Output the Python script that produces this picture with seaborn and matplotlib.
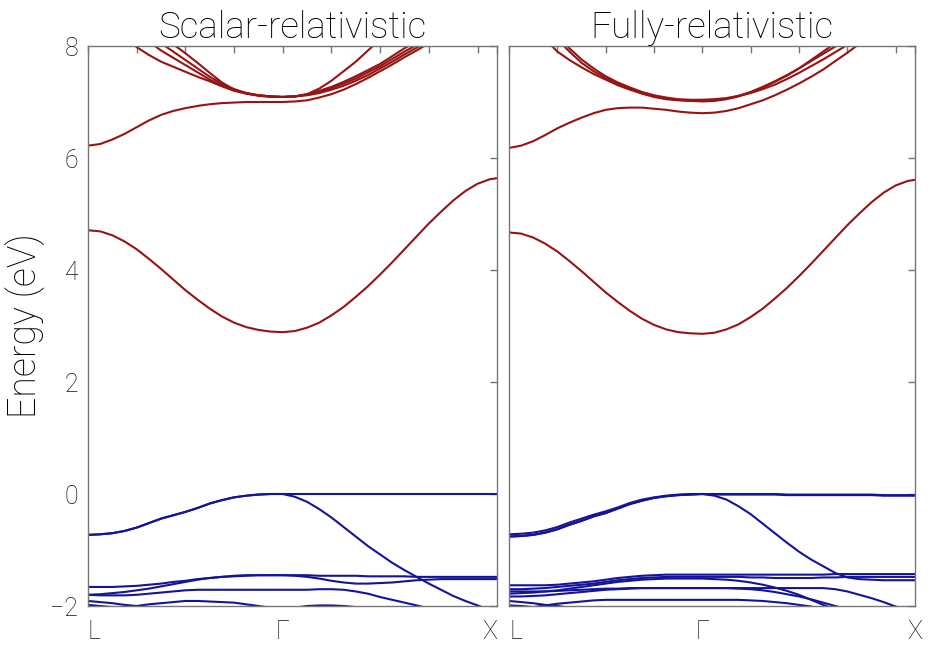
import numpy as np
import pandas as pd
import matplotlib
matplotlib.use('Agg')
import matplotlib.pyplot as plt
import seaborn as sns

nan = np.nan

# k path: L -> Gamma -> X, sampled every 0.25 (ticks every 1)
k_LG = [0, 0.25, 0.5, 0.75, 1, 1.25, 1.5, 1.75, 2, 2.25, 2.5, 2.75, 3, 3.25, 3.5, 3.75, 4]
k_GX = [4.25, 4.5, 4.75, 5, 5.25, 5.5, 5.75, 6, 6.25, 6.5, 6.75, 7, 7.25, 7.5, 7.75, 8, 8.25, 8.4]
kpts = k_LG + k_GX
klabels = ['L', 'Γ', 'X']
kticks = [0, 4, 8.4]

# ---- scalar-relativistic bands (eV): L-Gamma part + Gamma-X part ----
sr_c1 = ([4.71, 4.69, 4.62, 4.51, 4.37, 4.2, 4.02, 3.83, 3.64, 3.47, 3.31, 3.17, 3.06, 2.98, 2.93, 2.9, 2.89] +
         [2.91, 2.97, 3.06, 3.19, 3.34, 3.52, 3.71, 3.92, 4.14, 4.37, 4.6, 4.83, 5.04, 5.24, 5.41, 5.54, 5.62, 5.64])
sr_c2 = ([6.22, 6.25, 6.33, 6.43, 6.55, 6.67, 6.77, 6.84, 6.89, 6.93, 6.96, 6.98, 6.99, 7.0, 7.0, 7.0, 7.0] +
         [7.01, 7.03, 7.08, 7.14, 7.22, 7.32, 7.43, 7.55, 7.67, 7.8, 7.92, 8.05, 8.17, 8.3, nan, nan, nan, nan])
sr_c3 = ([nan, nan, 8.45, 8.2, 7.98, 7.84, 7.72, 7.63, 7.54, 7.45, 7.37, 7.28, 7.2, 7.15, 7.12, 7.1, 7.09] +
         [7.1, 7.12, 7.16, 7.22, 7.29, 7.38, 7.48, 7.6, 7.72, 7.85, 7.97, 8.1, nan, nan, nan, nan, nan, nan])
sr_c4 = ([nan, nan, nan, nan, 8.25, 8.08, 7.92, 7.79, 7.66, 7.53, 7.4, 7.3, 7.22, 7.16, 7.12, 7.1, 7.09] +
         [7.1, 7.13, 7.18, 7.25, 7.33, 7.42, 7.53, 7.64, 7.77, 7.9, 8.02, 8.15, nan, nan, nan, nan, nan, nan])
sr_c5 = ([nan, nan, nan, nan, 8.4, 8.2, 8.05, 7.9, 7.75, 7.6, 7.45, 7.33, 7.23, 7.16, 7.12, 7.1, 7.09] +
         [7.1, 7.14, 7.2, 7.27, 7.36, 7.46, 7.57, 7.68, 7.82, 7.96, 8.08, 8.2, nan, nan, nan, nan, nan, nan])
sr_c6 = ([nan, nan, nan, nan, nan, nan, 8.2, 8.03, 7.87, 7.7, 7.52, 7.35, 7.22, 7.15, 7.11, 7.09, 7.09] +
         [7.1, 7.14, 7.24, 7.38, 7.55, 7.72, 7.92, 8.12, nan, nan, nan, nan, nan, nan, nan, nan, nan, nan])
sr_v1 = ([-0.73, -0.72, -0.7, -0.66, -0.6, -0.52, -0.44, -0.38, -0.32, -0.25, -0.17, -0.11, -0.06, -0.03, -0.01, 0.0, 0.0] +
         [0.0, 0.0, 0.0, 0.0, 0.0, 0.0, 0.0, 0.0, 0.0, 0.0, 0.0, 0.0, 0.0, 0.0, 0.0, 0.0, 0.0, 0.0])
sr_v2 = ([-0.73, -0.72, -0.7, -0.66, -0.6, -0.52, -0.44, -0.38, -0.32, -0.25, -0.17, -0.11, -0.06, -0.03, -0.01, 0.0, 0.0] +
         [-0.05, -0.14, -0.27, -0.42, -0.59, -0.76, -0.93, -1.08, -1.23, -1.36, -1.48, -1.6, -1.71, -1.82, -1.91, -1.99, -2.07, -2.12])
sr_v3 = ([-1.66, -1.66, -1.66, -1.65, -1.64, -1.62, -1.6, -1.57, -1.55, -1.52, -1.5, -1.48, -1.46, -1.45, -1.45, -1.45, -1.45] +
         [-1.45, -1.45, -1.46, -1.46, -1.46, -1.46, -1.47, -1.47, -1.47, -1.47, -1.48, -1.48, -1.48, -1.48, -1.48, -1.48, -1.48, -1.48])
sr_v4 = ([-1.8, -1.79, -1.77, -1.75, -1.72, -1.69, -1.65, -1.61, -1.57, -1.53, -1.5, -1.48, -1.47, -1.46, -1.45, -1.45, -1.45] +
         [-1.46, -1.48, -1.51, -1.55, -1.58, -1.6, -1.6, -1.59, -1.58, -1.56, -1.54, -1.53, -1.52, -1.52, -1.52, -1.52, -1.52, -1.52])
sr_v5 = ([-1.8, -1.81, -1.81, -1.81, -1.8, -1.78, -1.76, -1.74, -1.72, -1.71, -1.71, -1.71, -1.71, -1.71, -1.71, -1.71, -1.71] +
         [-1.71, -1.71, -1.7, -1.7, -1.71, -1.74, -1.78, -1.84, -1.89, -1.94, -1.99, -2.04, nan, nan, nan, nan, nan, nan])
sr_v6 = ([-1.91, -1.93, -1.95, -1.98, -2.0, -2.03, nan, nan, nan, nan, nan, nan, nan, nan, nan, nan, nan] +
         [nan] * 18)
sr_v7 = ([nan, nan, nan, nan, -2.0, -1.97, -1.95, -1.93, -1.91, -1.91, -1.92, -1.93, -1.94, -1.97, -2.0, -2.03, nan] +
         [nan] * 18)
sr_v8 = ([nan] * 17 +
         [-2.03, -2.0, -1.99, -1.99, -2.0, -2.02, -2.04, nan, nan, nan, nan, nan, nan, nan, nan, nan, nan, nan])
sr_v9 = ([-1.98, -2.0, -2.02, nan, nan, nan, nan, nan, nan, nan, nan, nan, nan, nan, nan, nan, nan] +
         [nan] * 18)

# ---- fully-relativistic bands (eV) ----
fr_c1 = ([4.67, 4.65, 4.58, 4.47, 4.33, 4.16, 3.98, 3.79, 3.6, 3.43, 3.27, 3.13, 3.02, 2.94, 2.89, 2.87, 2.86] +
         [2.88, 2.94, 3.03, 3.16, 3.31, 3.49, 3.68, 3.89, 4.11, 4.34, 4.57, 4.8, 5.01, 5.21, 5.38, 5.51, 5.59, 5.61])
fr_c2 = ([6.18, 6.22, 6.3, 6.41, 6.53, 6.63, 6.72, 6.8, 6.86, 6.89, 6.9, 6.9, 6.88, 6.86, 6.83, 6.81, 6.8] +
         [6.81, 6.84, 6.89, 6.96, 7.03, 7.12, 7.22, 7.33, 7.45, 7.58, 7.73, 7.88, 8.04, 8.2, nan, nan, nan, nan])
fr_c3 = ([nan, nan, 8.4, 8.12, 7.9, 7.75, 7.62, 7.5, 7.4, 7.3, 7.22, 7.15, 7.09, 7.05, 7.03, 7.02, 7.01] +
         [7.02, 7.05, 7.1, 7.17, 7.26, 7.36, 7.47, 7.6, 7.75, 7.9, 8.05, 8.2, nan, nan, nan, nan, nan, nan])
fr_c4 = ([nan, nan, nan, nan, 8.12, 7.9, 7.7, 7.55, 7.43, 7.33, 7.24, 7.16, 7.1, 7.06, 7.04, 7.02, 7.02] +
         [7.03, 7.06, 7.11, 7.18, 7.27, 7.37, 7.48, 7.6, 7.73, 7.86, 7.99, 8.12, nan, nan, nan, nan, nan, nan])
fr_c5 = ([nan, nan, nan, nan, 8.22, 7.96, 7.76, 7.6, 7.46, 7.35, 7.26, 7.18, 7.12, 7.08, 7.05, 7.04, 7.04] +
         [7.05, 7.07, 7.11, 7.16, 7.23, 7.31, 7.41, 7.52, 7.64, 7.76, 7.89, 8.02, nan, nan, nan, nan, nan, nan])
fr_v1 = ([-0.72, -0.71, -0.69, -0.65, -0.59, -0.51, -0.44, -0.37, -0.31, -0.24, -0.16, -0.1, -0.06, -0.03, -0.01, 0.0, 0.0] +
         [0.0, 0.0, 0.0, 0.0, 0.0, 0.0, -0.01, -0.01, -0.01, -0.01, -0.01, -0.01, -0.01, -0.01, -0.02, -0.02, -0.02, -0.02])
fr_v1b = ([-0.76, -0.75, -0.73, -0.69, -0.63, -0.55, -0.48, -0.4, -0.34, -0.26, -0.18, -0.12, -0.07, -0.04, -0.02, -0.01, 0.0] +
          [-0.01, -0.01, -0.01, -0.01, -0.01, -0.01, -0.02, -0.02, -0.02, -0.02, -0.02, -0.02, -0.02, -0.02, -0.03, -0.03, -0.03, -0.03])
fr_v2 = ([-0.76, -0.75, -0.73, -0.69, -0.63, -0.55, -0.48, -0.4, -0.34, -0.26, -0.18, -0.12, -0.07, -0.04, -0.02, -0.01, 0.0] +
         [-0.03, -0.1, -0.22, -0.36, -0.53, -0.7, -0.87, -1.03, -1.17, -1.29, -1.41, -1.49, -1.52, -1.53, -1.54, -1.54, -1.54, -1.54])
fr_v3 = ([-1.63, -1.63, -1.63, -1.63, -1.62, -1.6, -1.58, -1.56, -1.53, -1.5, -1.48, -1.46, -1.45, -1.44, -1.44, -1.44, -1.44] +
         [-1.44, -1.44, -1.44, -1.44, -1.44, -1.44, -1.44, -1.44, -1.44, -1.44, -1.43, -1.43, -1.43, -1.43, -1.43, -1.43, -1.43, -1.43])
fr_v4 = ([-1.7, -1.7, -1.69, -1.68, -1.66, -1.64, -1.62, -1.6, -1.57, -1.54, -1.52, -1.5, -1.49, -1.48, -1.48, -1.48, -1.48] +
         [-1.48, -1.48, -1.48, -1.49, -1.49, -1.5, -1.5, -1.5, -1.5, -1.49, -1.49, -1.48, -1.48, -1.48, -1.48, -1.48, -1.48, -1.48])
fr_v5 = ([-1.78, -1.77, -1.76, -1.74, -1.72, -1.69, -1.66, -1.63, -1.6, -1.57, -1.55, -1.53, -1.52, -1.51, -1.51, -1.51, -1.51] +
         [-1.52, -1.53, -1.55, -1.58, -1.62, -1.67, -1.73, -1.8, -1.89, -1.98, -2.06, nan, nan, nan, nan, nan, nan, nan])
fr_v6 = ([-1.83, -1.83, -1.82, -1.81, -1.79, -1.77, -1.75, -1.73, -1.71, -1.7, -1.69, -1.68, -1.68, -1.68, -1.68, -1.68, -1.68] +
         [-1.68, -1.68, -1.69, -1.7, -1.72, -1.75, -1.79, -1.83, -1.88, -1.94, -2.0, -2.06, nan, nan, nan, nan, nan, nan])
fr_v7 = ([-1.74, -1.74, -1.74, -1.74, -1.73, -1.72, -1.71, -1.7, -1.69, -1.69, -1.68, -1.68, -1.68, -1.68, -1.68, -1.68, -1.68] +
         [-1.68, -1.68, -1.68, -1.68, -1.68, -1.68, -1.68, -1.68, -1.68, -1.68, -1.7, -1.74, -1.8, -1.86, -1.93, -2.01, -2.07, -2.1])
fr_v8 = ([nan, nan, -2.02, -1.99, -1.96, -1.94, -1.92, -1.9, -1.89, -1.89, -1.89, -1.89, -1.89, -1.89, -1.89, -1.89, -1.89] +
         [-1.89, -1.89, -1.89, -1.9, -1.91, -1.93, -1.95, -1.98, -2.01, -2.05, nan, nan, nan, nan, nan, nan, nan, nan])
fr_v9 = ([-1.91, -1.93, -1.95, -1.98, -2.0, -2.03, nan, nan, nan, nan, nan, nan, nan, nan, nan, nan, nan] +
         [nan] * 18)
fr_v10 = ([-1.99, -2.0, -2.02, nan, nan, nan, nan, nan, nan, nan, nan, nan, nan, nan, nan, nan, nan] +
          [nan] * 18)

scalar = {'c1': sr_c1, 'c2': sr_c2, 'c3': sr_c3, 'c4': sr_c4, 'c5': sr_c5, 'c6': sr_c6,
          'v1': sr_v1, 'v2': sr_v2, 'v3': sr_v3, 'v4': sr_v4, 'v5': sr_v5, 'v6': sr_v6,
          'v7': sr_v7, 'v8': sr_v8, 'v9': sr_v9}
full = {'c1': fr_c1, 'c2': fr_c2, 'c3': fr_c3, 'c4': fr_c4, 'c5': fr_c5,
        'v1': fr_v1, 'v1b': fr_v1b, 'v2': fr_v2, 'v3': fr_v3, 'v4': fr_v4, 'v5': fr_v5,
        'v6': fr_v6, 'v7': fr_v7, 'v8': fr_v8, 'v9': fr_v9, 'v10': fr_v10}


def to_frame(bands):
    rows = []
    for name, vals in bands.items():
        assert len(vals) == len(kpts), name
        for k, e in zip(kpts, vals):
            rows.append({'k': k, 'E': e, 'band': name, 'kind': name[0]})
    return pd.DataFrame(rows).dropna()


sns.set_style("white")
plt.rcParams['font.family'] = ['Roboto', 'DejaVu Sans']
plt.rcParams['font.weight'] = 'light'
plt.rcParams['axes.titleweight'] = 'light'
plt.rcParams['axes.labelweight'] = 'light'

palette = {'c': '#961414', 'v': '#14149a'}
spine_col = '#767676'

fig = plt.figure(figsize=(9.33, 6.51), dpi=100)
ax1 = fig.add_axes([88/933, 45/651, 409/933, 560/651])
ax2 = fig.add_axes([509/933, 45/651, 406/933, 560/651])

for ax, bands, title in [(ax1, scalar, 'Scalar-relativistic'), (ax2, full, 'Fully-relativistic')]:
    df = to_frame(bands)
    sns.lineplot(data=df, x='k', y='E', hue='kind', units='band', estimator=None,
                 palette=palette, lw=1.5, legend=False, ax=ax)
    ax.set_xlim(0, 8.4)
    ax.set_ylim(-2, 8)
    ax.set_xticks(kticks)
    ax.set_xticklabels(klabels)
    ax.set_xticks([1, 2, 3, 5, 6, 7, 8], minor=True)
    ax.set_yticks([-2, 0, 2, 4, 6, 8])
    ax.tick_params(axis='both', which='both', direction='in', length=5, width=1,
                   color=spine_col, labelcolor='#111111', top=True, right=True,
                   labelsize=18, pad=7)
    ax.tick_params(axis='x', which='major', pad=10)
    for s in ax.spines.values():
        s.set_color(spine_col)
        s.set_linewidth(1)
    ax.set_xlabel('')
    ax.set_ylabel('')
    ax.set_title(title, fontsize=26.5, pad=6, color='black')

# keep the end labels of the two panels apart, as in the original
labs1 = ax1.get_xticklabels()
labs1[0].set_ha('left')
labs1[2].set_ha('right')
labs2 = ax2.get_xticklabels()
labs2[0].set_ha('left')

ax1.set_ylabel('Energy (eV)', fontsize=27, labelpad=4, color='black')
ax2.tick_params(axis='y', labelleft=False)

plt.savefig('out.png', dpi=100)
